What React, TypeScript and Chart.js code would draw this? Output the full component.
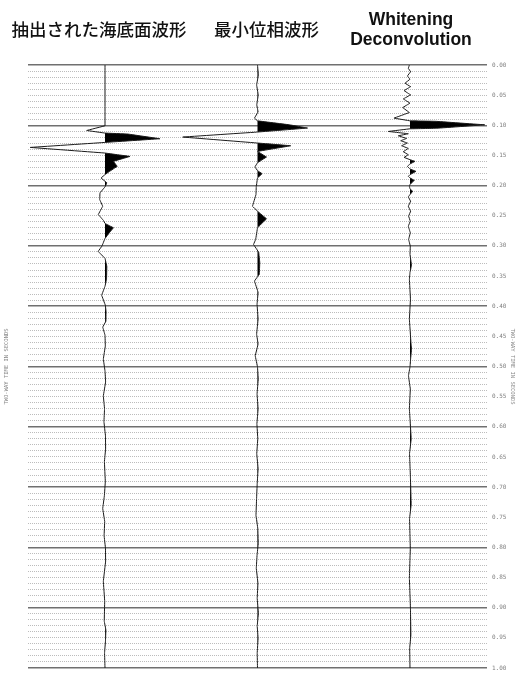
import { useEffect, useRef } from "react";
import { Chart, registerables } from "chart.js";

Chart.register(...registerables);

// Column headings, one per trace (multi-line headings are drawn line by line)
const traceTitles: string[][] = [
  ["抽出された海底面波形"],
  ["最小位相波形"],
  ["Whitening", "Deconvolution"],
];

// Trace positions on the horizontal axis (trace number)
const traceBases = [1, 2, 3];

// Extracted seafloor wavelet: [time s, amplitude in trace spacings]
const seabedTrace: [number, number][] = [
  [0, 0], [0.1008, 0], [0.1086, -0.12], [0.1129, 0], [0.1145, 0.15], [0.1223, 0.36],
  [0.1284, 0], [0.1367, -0.49], [0.146, 0], [0.1516, 0.164], [0.1598, 0.055],
  [0.1681, 0.08], [0.1764, 0.03], [0.1818, 0], [0.1873, -0.026], [0.1955, 0.012],
  [0.2021, 0], [0.2121, -0.033], [0.2231, -0.035], [0.2342, -0.015], [0.2479, -0.044],
  [0.2579, -0.01], [0.2628, 0], [0.2699, 0.055], [0.2777, 0.03], [0.2876, 0],
  [0.3003, -0.02], [0.3091, -0.045], [0.3207, 0], [0.3339, 0.012], [0.3554, 0.01],
  [0.3669, 0], [0.3818, -0.022], [0.3983, 0.002], [0.4083, 0.007], [0.4248, 0.006],
  [0.4347, -0.015], [0.4479, 0], [0.4661, 0.002], [0.4876, -0.011], [0.5074, 0],
  [0.5256, 0.004], [0.5488, -0.011], [0.5702, -0.003], [0.5917, -0.007], [0.6149, 0.003],
  [0.6364, 0.004], [0.6579, -0.004], [0.6909, 0.002], [0.714, -0.004], [0.7355, -0.015],
  [0.757, -0.002], [0.7802, -0.006], [0.8017, 0.003], [0.8231, 0.004], [0.8562, -0.011],
  [0.8893, -0.002], [0.9223, -0.005], [0.9372, 0.006], [0.9554, 0.003], [0.9752, -0.003],
  [1.0, 0],
];

// Minimum-phase wavelet
const minPhaseTrace: [number, number][] = [
  [0, 0], [0.0165, 0.006], [0.0331, -0.006], [0.0496, 0.005], [0.0661, -0.005],
  [0.0777, 0.004], [0.0881, -0.02], [0.0926, 0], [0.0992, 0.21], [0.1046, 0.328],
  [0.1112, 0], [0.1195, -0.49], [0.1294, 0], [0.1339, 0.218], [0.1433, 0],
  [0.1526, 0.059], [0.162, 0], [0.1691, -0.017], [0.1752, 0], [0.1802, 0.03],
  [0.1873, 0], [0.2012, -0.008], [0.2149, -0.01], [0.2342, -0.033], [0.2425, 0],
  [0.255, 0.059], [0.2699, 0], [0.2893, -0.012], [0.2975, -0.026], [0.3107, 0.008],
  [0.3273, 0.015], [0.3471, 0.012], [0.3582, -0.02], [0.3769, 0.004], [0.3967, -0.003],
  [0.4215, 0.004], [0.4463, -0.006], [0.4628, 0.004], [0.4821, -0.015], [0.5008, 0],
  [0.5207, 0.005], [0.5455, -0.003], [0.5702, 0.004], [0.595, -0.004], [0.6198, 0.002],
  [0.6446, -0.005], [0.6694, 0.004], [0.6942, -0.002], [0.719, -0.006], [0.7471, -0.01],
  [0.7686, 0.002], [0.7934, 0.005], [0.8132, -0.003], [0.8347, -0.008], [0.8595, 0.003],
  [0.8843, -0.002], [0.9091, 0.006], [0.9306, -0.002], [0.9504, 0.004], [0.9752, -0.002],
  [1.0, 0],
];

// Output of whitening deconvolution
const whitenedTrace: [number, number][] = [
  [0, -0.004], [0.0055, -0.011], [0.0111, 0.004], [0.0182, -0.017], [0.0236, 0],
  [0.0302, -0.033], [0.0359, 0.004], [0.0425, -0.039], [0.0496, 0.004], [0.0562, -0.044],
  [0.0633, 0], [0.0706, -0.048], [0.0788, -0.004], [0.0881, -0.105], [0.0926, 0],
  [0.0934, 0.17], [0.0992, 0.49], [0.105, 0.17], [0.1058, 0], [0.1102, -0.142],
  [0.114, -0.011], [0.1174, -0.077], [0.1218, -0.022], [0.1256, -0.061], [0.1294, -0.017],
  [0.1339, -0.055], [0.1383, -0.011], [0.1438, -0.044], [0.1488, -0.011], [0.1532, -0.039],
  [0.157, 0], [0.1598, 0.033], [0.1641, 0], [0.1681, -0.017], [0.1724, 0],
  [0.1764, 0.039], [0.1818, 0], [0.1846, -0.011], [0.1873, 0], [0.1912, 0.028],
  [0.1983, 0], [0.2012, -0.004], [0.2055, 0], [0.2094, 0.018], [0.2149, 0],
  [0.2187, -0.011], [0.226, 0.004], [0.2342, -0.011], [0.2425, 0.004], [0.2507, -0.009],
  [0.259, 0.002], [0.2673, -0.011], [0.2782, 0.002], [0.2893, -0.009], [0.3003, 0.002],
  [0.314, 0], [0.3322, 0.01], [0.3438, 0], [0.3554, -0.004], [0.3884, 0.003],
  [0.4215, -0.004], [0.4595, 0.006], [0.4711, 0.01], [0.4876, 0.004], [0.5008, 0],
  [0.5152, -0.01], [0.5372, 0.002], [0.5702, -0.004], [0.6198, 0.008], [0.6446, -0.003],
  [0.686, 0.003], [0.7289, 0.008], [0.7521, -0.003], [0.8017, 0.002], [0.8512, -0.004],
  [0.9008, 0.003], [0.9455, 0.006], [0.9669, -0.002], [1.0, 0],
];

const traces = [seabedTrace, minPhaseTrace, whitenedTrace];

// Time axis
const timeMin = 0;
const timeMax = 1;
const timeStep = 0.01;
const axisTitle = "TWO-WAY TIME IN SECONDS";

const isMajor = (v: number) => Math.round(v * 100) % 10 === 0;
const isLabelled = (v: number) => Math.round(v * 100) % 5 === 0;

// Full wiggle line for one trace
function wigglePoints(trace: [number, number][], base: number) {
  return trace.map(([t, a]) => ({ x: base + a, y: t }));
}

// Positive half of the wiggle (clipped at the trace baseline) for the black fill
function positivePoints(trace: [number, number][], base: number) {
  const pts: { x: number; y: number }[] = [];
  for (let i = 0; i < trace.length; i++) {
    const [t, a] = trace[i];
    if (i > 0) {
      const [t0, a0] = trace[i - 1];
      if ((a0 > 0 && a < 0) || (a0 < 0 && a > 0)) {
        const f = a0 / (a0 - a);
        pts.push({ x: base, y: t0 + f * (t - t0) });
      }
    }
    pts.push({ x: base + Math.max(a, 0), y: t });
  }
  return pts;
}

const headerOffsets = [-6, 9, 1];

const headerPlugin = {
  id: "traceHeaders",
  afterDraw(chart: any) {
    const { ctx } = chart;
    const xs = chart.scales.x;
    ctx.save();
    ctx.fillStyle = "#111";
    ctx.textAlign = "center";
    ctx.textBaseline = "middle";
    traceTitles.forEach((lines, i) => {
      const cx = xs.getPixelForValue(traceBases[i]) + headerOffsets[i];
      if (lines.length === 1) {
        ctx.font = '500 17.5px "Noto Sans CJK JP", sans-serif';
        ctx.fillText(lines[0], cx, 29);
      } else {
        ctx.font = 'bold 17.5px "Liberation Sans", Arial, sans-serif';
        lines.forEach((l, j) => ctx.fillText(l, cx, 20 + j * 20));
      }
    });
    ctx.restore();
  },
};

export default function App() {
  const ref = useRef<HTMLCanvasElement>(null);

  useEffect(() => {
    const lineSets = traces.map((tr, i) => ({
      data: wigglePoints(tr, traceBases[i]),
      borderColor: "#1a1a1a",
      borderWidth: 1,
      pointRadius: 0,
      tension: 0.0001,
      fill: false,
      yAxisID: "y",
      xAxisID: "x",
      order: 0,
    }));
    const fillSets = traces.map((tr, i) => ({
      data: positivePoints(tr, traceBases[i]),
      borderColor: "rgba(0,0,0,0)",
      borderWidth: 0,
      backgroundColor: "#000",
      pointRadius: 0,
      tension: 0.0001,
      fill: { value: traceBases[i] },
      yAxisID: "y",
      xAxisID: "x",
      order: 1,
    }));

    const chart = new Chart(ref.current!, {
      type: "line",
      data: { datasets: [...lineSets, ...fillSets] as any },
      plugins: [headerPlugin],
      options: {
        responsive: false,
        animation: false,
        indexAxis: "y",
        layout: { padding: { top: 65, bottom: 10, left: 0, right: 0 } },
        plugins: {
          legend: { display: false },
          tooltip: { enabled: false },
        },
        scales: {
          x: {
            type: "linear",
            min: 0.495,
            max: 3.505,
            display: false,
          },
          y: {
            type: "linear",
            position: "right",
            reverse: true,
            min: timeMin,
            max: timeMax,
            afterFit: (s: any) => {
              s.width = 29;
            },
            ticks: {
              stepSize: timeStep,
              maxTicksLimit: 200,
              autoSkip: false,
              padding: 5,
              color: "#808080",
              font: { family: '"DejaVu Sans Mono", monospace', size: 6 },
              callback: (v: any) => (isLabelled(Number(v)) ? Number(v).toFixed(2) : ""),
            },
            grid: {
              drawTicks: false,
              color: (c: any) => (c.tick && isMajor(c.tick.value) ? "#707070" : "#bcbcbc"),
              lineWidth: (c: any) => (c.tick && isMajor(c.tick.value) ? 1.5 : 1),
            },
            border: {
              display: false,
              dash: (c: any) => (c.tick && isMajor(c.tick.value) ? [] : [1, 1]),
            },
            title: {
              display: true,
              text: axisTitle,
              color: "#8a8a8a",
              font: { family: '"DejaVu Sans Mono", monospace', size: 5.5 },
              padding: { top: 0, bottom: 0 },
            },
          },
          yLeft: {
            type: "linear",
            position: "left",
            reverse: true,
            min: timeMin,
            max: timeMax,
            afterFit: (s: any) => {
              s.width = 28;
            },
            ticks: { display: false },
            grid: { display: false },
            border: { display: false },
            title: {
              display: true,
              text: axisTitle,
              color: "#8a8a8a",
              font: { family: '"DejaVu Sans Mono", monospace', size: 5.5 },
              padding: { top: 3, bottom: 0 },
            },
          },
        },
      } as any,
    });
    return () => chart.destroy();
  }, []);

  return (
    <div style={{ position: "fixed", left: 0, top: 0, width: 516, height: 678, background: "#fff" }}>
      <canvas ref={ref} width={516} height={678} style={{ display: "block", width: 516, height: 678 }} />
    </div>
  );
}
